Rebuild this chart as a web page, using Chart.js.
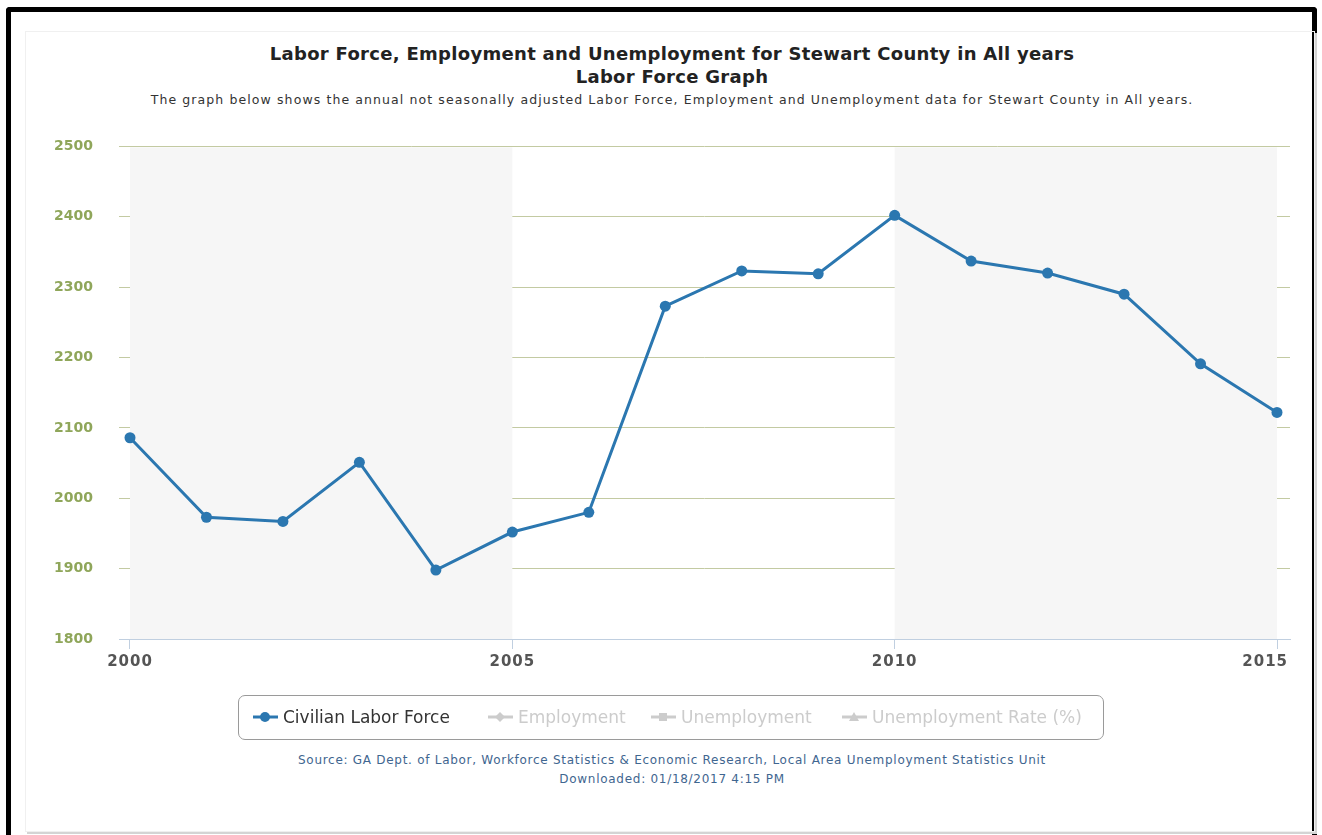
<!DOCTYPE html>
<html>
<head>
<meta charset="utf-8">
<script src="https://cdn.jsdelivr.net/npm/chart.js@4/dist/chart.umd.min.js"></script>
<style>
  body { margin: 0; width: 1322px; height: 835px; background: #fff; overflow: hidden; position: relative; font-family: "DejaVu Sans", sans-serif; }
  #frame { position: absolute; left: 6px; top: 7px; width: 1311px; height: 840px; border: 5px solid #000; border-bottom: none; border-radius: 4px 4px 0 0; box-sizing: border-box; }
  #panel { position: absolute; left: 25px; top: 31px; width: 1290px; height: 801px; border: 1px solid #f0f0f0; box-shadow: 2px 2px 0 #d4d4d4; box-sizing: border-box; }
  .t { position: absolute; left: 11px; width: 1322px; text-align: center; white-space: nowrap; }
  #title1 { top: 43px; font: bold 18px "DejaVu Sans", sans-serif; letter-spacing: 0.3px; color: #222; }
  #title2 { top: 66px; font: bold 18px "DejaVu Sans", sans-serif; letter-spacing: 0.3px; color: #222; }
  #desc { top: 92px; font: 12.5px "DejaVu Sans", sans-serif; letter-spacing: 1.1px; color: #333; }
  #wrap { position: absolute; left: 25px; top: 112px; width: 1287px; height: 588px; }
  #legend { position: absolute; left: 238px; top: 695px; width: 866px; height: 45px; border: 1px solid #9a9a9a; border-radius: 7px; box-sizing: border-box; font: 17px "DejaVu Sans", sans-serif; }
  .item { position: absolute; top: 11px; display: flex; align-items: center; }
  .item svg { margin-right: 5px; }
  #src { top: 751px; font: 12px "DejaVu Sans", sans-serif; letter-spacing: 0.72px; color: #3f6690; line-height: 19px; }
</style>
</head>
<body>
<div id="frame"></div>
<div id="panel"></div>
<div class="t" id="title1">Labor Force, Employment and Unemployment for Stewart County in All years</div>
<div class="t" id="title2">Labor Force Graph</div>
<div class="t" id="desc">The graph below shows the annual not seasonally adjusted Labor Force, Employment and Unemployment data for Stewart County in All years.</div>
<div id="wrap"><canvas id="c"></canvas></div>
<div id="legend"></div>
<div class="t" id="src">Source: GA Dept. of Labor, Workforce Statistics &amp; Economic Research, Local Area Unemployment Statistics Unit<br>Downloaded: 01/18/2017 4:15 PM</div>
<script>
var years = [2000, 2001, 2002, 2003, 2004, 2005, 2006, 2007, 2008, 2009, 2010, 2011, 2012, 2013, 2014, 2015];
var laborForce = [2086, 1973, 1967, 2051, 1898, 1952, 1980, 2273, 2323, 2319, 2402, 2337, 2320, 2290, 2191, 2122];
var xTicks = [2000, 2005, 2010, 2015];
var bands = [[2000, 2005], [2010, 2015]];
var seriesNames = ["Civilian Labor Force", "Employment", "Unemployment", "Unemployment Rate (%)"];
var blue = "#2b77b0";

// light alternating bands behind the line
var bandPlugin = {
  id: "bands",
  beforeDatasetsDraw: function(chart) {
    var ctx = chart.ctx, x = chart.scales.x, a = chart.chartArea;
    ctx.save();
    ctx.fillStyle = "#f6f6f6";
    bands.forEach(function(b) {
      var x0 = x.getPixelForValue(b[0]), x1 = x.getPixelForValue(b[1]);
      ctx.fillRect(x0, a.top + 1, x1 - x0, a.bottom - a.top - 1);
    });
    ctx.restore();
  }
};

// x labels drawn by hand so the last one stays inside the plot, like the original
var xLabelPlugin = {
  id: "xlabels",
  afterDraw: function(chart) {
    var ctx = chart.ctx, x = chart.scales.x, a = chart.chartArea;
    ctx.save();
    ctx.font = "bold 15px 'DejaVu Sans'";
    ctx.letterSpacing = "1px";
    ctx.fillStyle = "#555";
    ctx.textBaseline = "middle";
    ctx.textAlign = "center";
    xTicks.forEach(function(v) {
      var px = x.getPixelForValue(v);
      var w = ctx.measureText(String(v)).width;
      if (px + w / 2 > a.right) px = a.right - w / 2 - 2;
      ctx.fillText(String(v), px, a.bottom + 23);
    });
    ctx.restore();
  }
};

var pts = years.map(function(y, i) { return { x: y, y: laborForce[i] }; });

new Chart(document.getElementById("c"), {
  type: "line",
  data: {
    datasets: [{
      label: seriesNames[0],
      data: pts,
      borderColor: blue,
      backgroundColor: blue,
      borderWidth: 3,
      pointRadius: 5.5,
      pointBorderWidth: 0,
      tension: 0
    }]
  },
  options: {
    responsive: true,
    maintainAspectRatio: false,
    animation: false,
    layout: { padding: { top: 17, right: 22, bottom: 20, left: 0 } },
    plugins: { legend: { display: false }, tooltip: { enabled: false } },
    scales: {
      x: {
        type: "linear",
        min: 2000 - 11 / 76.47,
        max: 2015 + 13 / 76.47,
        afterBuildTicks: function(axis) { axis.ticks = xTicks.map(function(v) { return { value: v }; }); },
        afterFit: function(axis) { axis.height = 41; },
        grid: { drawOnChartArea: false, drawTicks: true, tickLength: 10, color: "#c0cfe0" },
        border: { color: "#c0cfe0" },
        ticks: { display: false }
      },
      y: {
        min: 1800,
        max: 2500,
        afterFit: function(axis) { axis.width = 94; },
        grid: { color: "#c3caa2", drawTicks: false },
        border: { display: false },
        ticks: { stepSize: 100, color: "#8fa65a", font: { family: "DejaVu Sans", weight: "bold", size: 14 }, padding: 26,
          callback: function(v) { return String(v); } }
      }
    }
  },
  plugins: [bandPlugin, xLabelPlugin]
});

// legend: only the first series is shown, others are greyed out
var markers = [
  '<circle cx="12" cy="8" r="5" fill="' + blue + '"/>',
  '<path d="M12 3 L17 8 L12 13 L7 8 Z" fill="#ccc"/>',
  '<rect x="8" y="4" width="8" height="8" fill="#ccc"/>',
  '<path d="M12 3 L17 12 L7 12 Z" fill="#ccc"/>'
];
var itemLeft = [14, 249, 412, 603];
var lg = document.getElementById("legend");
seriesNames.forEach(function(n, i) {
  var col = i === 0 ? blue : "#ccc";
  var d = document.createElement("div");
  d.className = "item";
  d.style.left = itemLeft[i] + "px";
  d.innerHTML = '<svg width="25" height="16"><line x1="0" y1="8" x2="25" y2="8" stroke="' + col + '" stroke-width="3"/>' + markers[i] + '</svg>' +
    '<span style="color:' + (i === 0 ? "#333" : "#ccc") + '">' + n + '</span>';
  lg.appendChild(d);
});
</script>
</body>
</html>
